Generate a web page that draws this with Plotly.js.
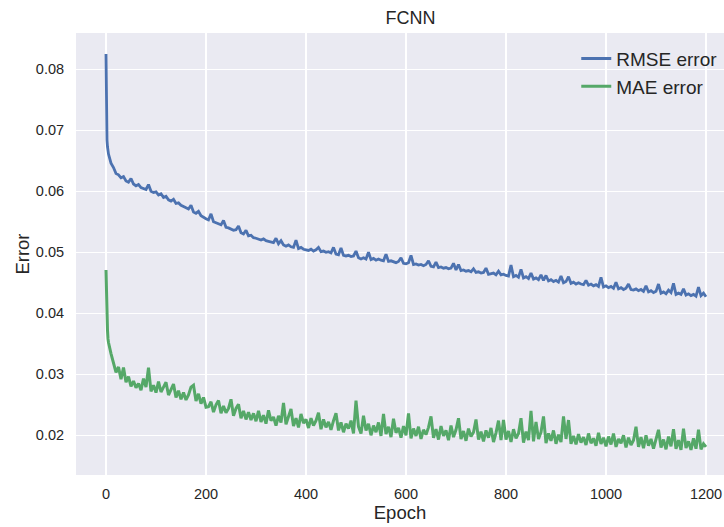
<!DOCTYPE html>
<html>
<head>
<meta charset="utf-8">
<script src="https://cdn.plot.ly/plotly-3.0.1.min.js"></script>
<style>
  html, body { margin: 0; padding: 0; background: #ffffff; }
  #chart { width: 724px; height: 527px; }
</style>
</head>
<body>
<div id="chart"></div>
<script>
// Training history of the fully connected network: per-epoch errors.
// First epochs are listed one by one, then every 5th epoch up to 1200.
const headEpochs = [0, 1, 2, 3, 4];
const stepEpochs = [];
for (let e = 5; e <= 1200; e += 5) stepEpochs.push(e);
const epochs = headEpochs.concat(stepEpochs);

const rmseError = [
  0.0825, 0.0700, 0.0684, 0.0673, 0.0666,
  0.0661, 0.0646, 0.0639, 0.0629, 0.0627, 0.0622, 0.0624, 0.0617, 0.0615, 0.0621,
  0.0612, 0.0609, 0.0611, 0.0606, 0.0604, 0.0603, 0.0611, 0.0600, 0.0598, 0.0599,
  0.0594, 0.0596, 0.0590, 0.0592, 0.0586, 0.0584, 0.0587, 0.0580, 0.0581, 0.0577,
  0.0575, 0.0573, 0.0571, 0.0577, 0.0566, 0.0564, 0.0567, 0.0560, 0.0557, 0.0555,
  0.0553, 0.0563, 0.0550, 0.0548, 0.0546, 0.0545, 0.0552, 0.0541, 0.0540, 0.0538,
  0.0536, 0.0537, 0.0543, 0.0532, 0.0530, 0.0536, 0.0527, 0.0528, 0.0524, 0.0523,
  0.0522, 0.0520, 0.0522, 0.0519, 0.0518, 0.0517, 0.0516, 0.0523, 0.0514, 0.0519,
  0.0512, 0.0510, 0.0512, 0.0509, 0.0508, 0.0520, 0.0506, 0.0508, 0.0505, 0.0504,
  0.0503, 0.0505, 0.0502, 0.0504, 0.0508, 0.0501, 0.0502, 0.0500, 0.0501, 0.0499,
  0.0508, 0.0497, 0.0496, 0.0507, 0.0495, 0.0494, 0.0495, 0.0493, 0.0494, 0.0502,
  0.0491, 0.0489, 0.0491, 0.0489, 0.0500, 0.0488, 0.0490, 0.0487, 0.0489, 0.0487,
  0.0486, 0.0497, 0.0485, 0.0486, 0.0484, 0.0483, 0.0485, 0.0491, 0.0482, 0.0481,
  0.0483, 0.0495, 0.0480, 0.0481, 0.0479, 0.0480, 0.0478, 0.0480, 0.0486, 0.0477,
  0.0476, 0.0484, 0.0475, 0.0476, 0.0474, 0.0475, 0.0473, 0.0474, 0.0482, 0.0471,
  0.0480, 0.0470, 0.0471, 0.0469, 0.0470, 0.0468, 0.0473, 0.0467, 0.0468, 0.0466,
  0.0467, 0.0474, 0.0464, 0.0465, 0.0466, 0.0463, 0.0469, 0.0463, 0.0464, 0.0462,
  0.0461, 0.0479, 0.0460, 0.0462, 0.0459, 0.0472, 0.0458, 0.0460, 0.0457, 0.0466,
  0.0456, 0.0458, 0.0455, 0.0463, 0.0454, 0.0462, 0.0453, 0.0455, 0.0452, 0.0454,
  0.0451, 0.0461, 0.0450, 0.0452, 0.0460, 0.0449, 0.0451, 0.0448, 0.0450, 0.0448,
  0.0447, 0.0454, 0.0446, 0.0448, 0.0445, 0.0447, 0.0444, 0.0459, 0.0443, 0.0445,
  0.0442, 0.0444, 0.0441, 0.0451, 0.0440, 0.0442, 0.0439, 0.0441, 0.0448, 0.0439,
  0.0438, 0.0440, 0.0437, 0.0439, 0.0436, 0.0445, 0.0435, 0.0437, 0.0434, 0.0436,
  0.0448, 0.0433, 0.0435, 0.0432, 0.0438, 0.0434, 0.0449, 0.0431, 0.0433, 0.0431,
  0.0440, 0.0430, 0.0432, 0.0429, 0.0431, 0.0428, 0.0443, 0.0429, 0.0433, 0.0427
];

const maeError = [
  0.0471, 0.0420, 0.0381, 0.0372, 0.0358,
  0.0352, 0.0334, 0.0318, 0.0303, 0.0312, 0.0292, 0.0311, 0.0287, 0.0296, 0.0280,
  0.0289, 0.0278, 0.0285, 0.0274, 0.0293, 0.0279, 0.0311, 0.0272, 0.0282, 0.0270,
  0.0288, 0.0271, 0.0279, 0.0287, 0.0266, 0.0276, 0.0284, 0.0262, 0.0273, 0.0259,
  0.0270, 0.0258, 0.0266, 0.0279, 0.0282, 0.0256, 0.0268, 0.0252, 0.0262, 0.0246,
  0.0247, 0.0255, 0.0238, 0.0250, 0.0257, 0.0236, 0.0248, 0.0237, 0.0244, 0.0259,
  0.0232, 0.0244, 0.0251, 0.0228, 0.0240, 0.0226, 0.0238, 0.0225, 0.0236, 0.0223,
  0.0240, 0.0222, 0.0233, 0.0219, 0.0241, 0.0224, 0.0230, 0.0216, 0.0232, 0.0221,
  0.0253, 0.0218, 0.0231, 0.0243, 0.0215, 0.0228, 0.0213, 0.0235, 0.0220, 0.0226,
  0.0212, 0.0228, 0.0216, 0.0224, 0.0237, 0.0210, 0.0226, 0.0213, 0.0222, 0.0209,
  0.0224, 0.0236, 0.0208, 0.0221, 0.0205, 0.0219, 0.0211, 0.0224, 0.0203, 0.0257,
  0.0214, 0.0203, 0.0232, 0.0208, 0.0219, 0.0200, 0.0216, 0.0205, 0.0221, 0.0199,
  0.0235, 0.0202, 0.0214, 0.0197, 0.0227, 0.0204, 0.0212, 0.0196, 0.0215, 0.0200,
  0.0236, 0.0195, 0.0211, 0.0199, 0.0214, 0.0194, 0.0209, 0.0201, 0.0213, 0.0231,
  0.0196, 0.0210, 0.0193, 0.0215, 0.0199, 0.0208, 0.0192, 0.0216, 0.0197, 0.0209,
  0.0228, 0.0194, 0.0207, 0.0191, 0.0211, 0.0198, 0.0205, 0.0226, 0.0193, 0.0206,
  0.0190, 0.0208, 0.0196, 0.0212, 0.0189, 0.0204, 0.0224, 0.0192, 0.0225, 0.0193,
  0.0207, 0.0189, 0.0210, 0.0195, 0.0203, 0.0228, 0.0188, 0.0206, 0.0192, 0.0240,
  0.0190, 0.0222, 0.0194, 0.0205, 0.0231, 0.0187, 0.0203, 0.0191, 0.0208, 0.0186,
  0.0201, 0.0189, 0.0231, 0.0194, 0.0225, 0.0186, 0.0199, 0.0185, 0.0202, 0.0188,
  0.0197, 0.0184, 0.0203, 0.0187, 0.0195, 0.0183, 0.0204, 0.0186, 0.0196, 0.0182,
  0.0198, 0.0185, 0.0203, 0.0181, 0.0194, 0.0187, 0.0200, 0.0180, 0.0196, 0.0184,
  0.0192, 0.0214, 0.0181, 0.0197, 0.0179, 0.0200, 0.0183, 0.0194, 0.0178, 0.0196,
  0.0209, 0.0180, 0.0193, 0.0177, 0.0198, 0.0182, 0.0210, 0.0178, 0.0192, 0.0176,
  0.0211, 0.0179, 0.0190, 0.0176, 0.0195, 0.0178, 0.0209, 0.0177, 0.0186, 0.0181
];

const seriesNames = ['RMSE error', 'MAE error'];
const xTicks = [0, 200, 400, 600, 800, 1000, 1200];
const yTicks = [0.02, 0.03, 0.04, 0.05, 0.06, 0.07, 0.08];

const FONT = 'Liberation Sans, Arial, sans-serif';
const INK = '#262626';

const traces = [
  {
    x: epochs, y: rmseError, name: seriesNames[0],
    type: 'scatter', mode: 'lines',
    line: { color: '#4C72B0', width: 2.8 }
  },
  {
    x: epochs, y: maeError, name: seriesNames[1],
    type: 'scatter', mode: 'lines',
    line: { color: '#55A868', width: 3 }
  }
];

const layout = {
  width: 724,
  height: 527,
  margin: { l: 76, r: 0, t: 33, b: 52, pad: 0 },
  paper_bgcolor: '#ffffff',
  plot_bgcolor: '#EAEAF2',
  font: { family: FONT, color: INK, size: 14.5 },
  title: {
    text: 'FCNN',
    font: { family: FONT, size: 18, color: INK },
    x: 0.567, xref: 'container', xanchor: 'center',
    y: 1 - 18 / 527, yref: 'container', yanchor: 'middle'
  },
  xaxis: {
    range: [-60, 1236],
    tickvals: xTicks,
    ticktext: xTicks.map(String),
    ticks: 'outside', ticklen: 6, tickcolor: 'rgba(0,0,0,0)',
    showgrid: true, gridcolor: '#ffffff', gridwidth: 1.3,
    zeroline: false, showline: false,
    tickfont: { family: FONT, size: 14.5, color: INK },
    title: { text: 'Epoch', font: { family: FONT, size: 18.5, color: INK }, standoff: 3 }
  },
  yaxis: {
    range: [0.01349, 0.08595],
    tickvals: yTicks,
    tickformat: '.2f',
    ticks: 'outside', ticklen: 8, tickcolor: 'rgba(0,0,0,0)',
    showgrid: true, gridcolor: '#ffffff', gridwidth: 1.3,
    zeroline: false, showline: false,
    tickfont: { family: FONT, size: 14.5, color: INK },
    title: { text: 'Error', font: { family: FONT, size: 18.5, color: INK }, standoff: 1 }
  },
  showlegend: true,
  legend: {
    x: 0.772, xanchor: 'left',
    y: 0.985, yanchor: 'top',
    bgcolor: 'rgba(0,0,0,0)',
    borderwidth: 0,
    font: { family: FONT, size: 19, color: INK },
    tracegroupgap: 0
  }
};

Plotly.newPlot('chart', traces, layout, { displayModeBar: false, staticPlot: true });
</script>
</body>
</html>
